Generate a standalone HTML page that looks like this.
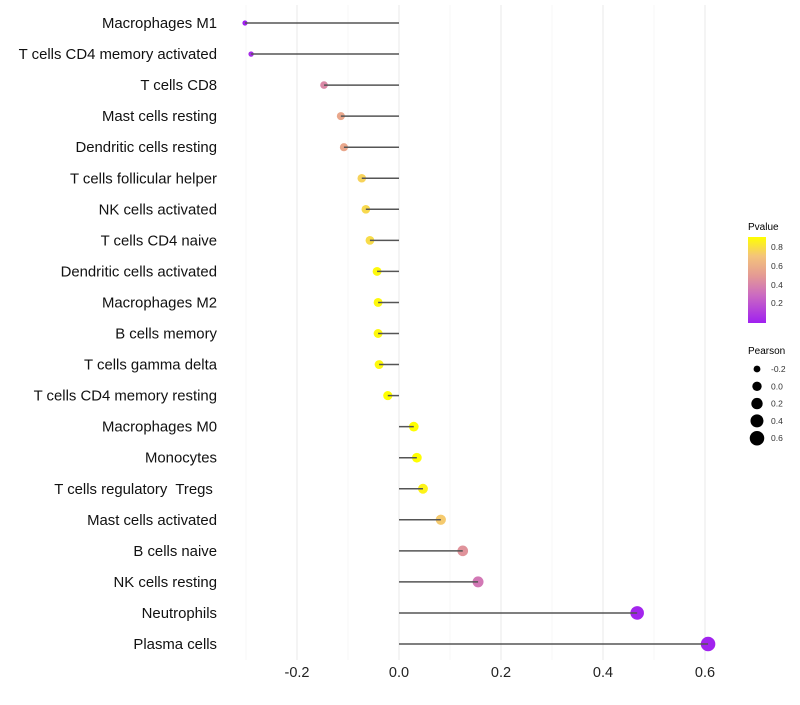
<!DOCTYPE html>
<html><head><meta charset="utf-8"><style>
body{margin:0;background:#fff;font-family:"Liberation Sans",sans-serif}
text{white-space:pre}
</style></head><body>
<svg id="chart" width="800" height="700" xmlns="http://www.w3.org/2000/svg" font-family="Liberation Sans, sans-serif">
<defs><linearGradient id="pg" x1="0" y1="1" x2="0" y2="0">
<stop offset="0" stop-color="#a020f0"/><stop offset="0.33" stop-color="#cc6cc0"/><stop offset="0.55" stop-color="#e49a94"/><stop offset="0.78" stop-color="#f4c47a"/><stop offset="1" stop-color="#ffff00"/></linearGradient></defs>
<g id="grid"></g><g id="marks"></g><g id="labels"></g>
<g>
<text x="748" y="230" font-size="10">Pvalue</text>
<rect x="748" y="237" width="18" height="86" fill="url(#pg)"/>
<g font-size="8.5" fill="#333">
<text x="771" y="250">0.8</text><text x="771" y="269">0.6</text><text x="771" y="288">0.4</text><text x="771" y="306">0.2</text>
</g>
<text x="748" y="354" font-size="10">Pearson</text>
<g id="sizeleg" font-size="8.5" fill="#333"></g>
</g>
</svg>
<script>
const cells=["Macrophages M1","T cells CD4 memory activated","T cells CD8","Mast cells resting","Dendritic cells resting","T cells follicular helper","NK cells activated","T cells CD4 naive","Dendritic cells activated","Macrophages M2","B cells memory","T cells gamma delta","T cells CD4 memory resting","Macrophages M0","Monocytes","T cells regulatory  Tregs ","Mast cells activated","B cells naive","NK cells resting","Neutrophils","Plasma cells"];
const pearson=[-0.302,-0.29,-0.147,-0.114,-0.108,-0.073,-0.065,-0.057,-0.043,-0.041,-0.041,-0.039,-0.022,0.029,0.035,0.047,0.082,0.125,0.155,0.467,0.606];
const pvalue=[0.0,0.05,0.42,0.56,0.56,0.75,0.77,0.78,0.88,0.88,0.88,0.88,0.95,0.9,0.9,0.86,0.72,0.47,0.35,0.02,0.01];
const xTicks=[-0.2,0,0.2,0.4,0.6];
const xMinor=[-0.3,-0.1,0.1,0.3,0.5];
const sizeLegend=[-0.2,0,0.2,0.4,0.6];
const NS="http://www.w3.org/2000/svg";
const X=v=>399+v*510, Y=i=>23+i*31.05, R=v=>Math.sqrt(Math.max(4,22+v*51));
const stops=[[0,[160,32,240]],[0.3,[204,108,192]],[0.5,[228,154,148]],[0.7,[244,196,122]],[0.9,[255,255,0]]];
function col(p){p=Math.max(0,Math.min(0.9,p));for(let k=0;k<stops.length-1;k++){const[a,c1]=stops[k],[b,c2]=stops[k+1];if(p<=b){const t=(p-a)/(b-a);return`rgb(${c1.map((c,j)=>Math.round(c+(c2[j]-c)*t)).join(',')})`;}}return'#ff0';}
function mk(t,a,parent){const e=document.createElementNS(NS,t);for(const k in a)e.setAttribute(k,a[k]);parent.appendChild(e);return e;}
const grid=document.getElementById('grid'),marks=document.getElementById('marks'),labels=document.getElementById('labels');
xMinor.forEach(v=>{const l=mk('line',{x1:X(v),x2:X(v),y1:5,y2:660,stroke:'#f2f2f2','stroke-width':0.6},grid);});
xTicks.forEach(v=>{const l=mk('line',{x1:X(v),x2:X(v),y1:5,y2:660,stroke:'#ebebeb','stroke-width':1.1},grid);
const t=mk('text',{x:X(v),y:677,'font-size':14.5,'text-anchor':'middle',fill:'#222'},labels);t.textContent=v===0?'0.0':v.toFixed(1);});
cells.forEach((c,i)=>{
const t=mk('text',{x:217,y:Y(i)+5,'font-size':14.9,'text-anchor':'end',fill:'#111'},labels);t.textContent=c;
const p=mk('circle',{cx:X(pearson[i]),cy:Y(i),r:R(pearson[i]),fill:col(pvalue[i])},marks);
const s=mk('line',{x1:X(0),x2:X(pearson[i]),y1:Y(i),y2:Y(i),stroke:'#555','stroke-width':1.5},marks);});
const sl=document.getElementById('sizeleg');
sizeLegend.forEach((v,k)=>{const y=369+k*17.3;const c=mk('circle',{cx:757,cy:y,r:R(v),fill:'#000'},sl);
const t=mk('text',{x:771,y:y+3},sl);t.textContent=v===0?'0.0':v.toFixed(1);});
</script>
</body></html>
